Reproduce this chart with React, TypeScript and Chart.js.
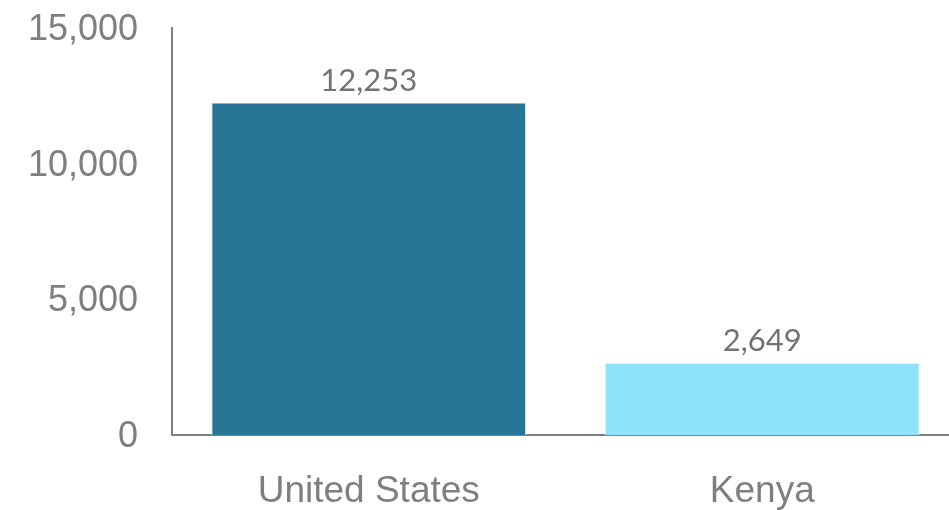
import React, { useEffect, useRef } from "react";
import { Chart, registerables } from "chart.js";

Chart.register(...registerables);

const categories = ["United States", "Kenya"];
const values = [12253, 2649];
const barColors = ["#277594", "#8FE3FC"];
const yTicks = [0, 5000, 10000, 15000];

const valueLabelPlugin = {
  id: "valueLabels",
  afterDatasetsDraw(chart: any) {
    const ctx = chart.ctx;
    const meta = chart.getDatasetMeta(0);
    ctx.save();
    ctx.font = "31px Lato";
    ctx.fillStyle = "#737373";
    ctx.textAlign = "center";
    ctx.textBaseline = "alphabetic";
    meta.data.forEach((bar: any, i: number) => {
      const v = chart.data.datasets[0].data[i] as number;
      ctx.fillText(v.toLocaleString("en-US"), bar.x, bar.y - 12);
    });
    ctx.restore();
  },
};

export default function App() {
  const ref = useRef<HTMLCanvasElement>(null);
  useEffect(() => {
    document.body.style.margin = "0";
    const chart = new Chart(ref.current!, {
      type: "bar",
      data: {
        labels: categories,
        datasets: [
          {
            data: values,
            backgroundColor: barColors,
            borderColor: "rgba(255,236,215,0.9)",
            borderWidth: 1,
            categoryPercentage: 1,
            barPercentage: 0.8,
          },
        ],
      },
      options: {
        responsive: false,
        animation: false,
        devicePixelRatio: 1,
        layout: { padding: { top: 28, right: 0, left: 0, bottom: 0 } },
        plugins: { legend: { display: false }, tooltip: { enabled: false } },
        scales: {
          x: {
            grid: { display: false, drawTicks: false, tickLength: 0 },
            border: { display: true, color: "#808080", width: 2 },
            ticks: {
              color: "#7f7f7f",
              font: { family: "'Liberation Sans', Arial", size: 37 },
              padding: 35,
            },
            afterFit: (s: any) => {
              s.height = 75;
              s.paddingLeft = 0;
              s.paddingRight = 0;
            },
          },
          y: {
            min: 0,
            max: 15000,
            afterBuildTicks: (s: any) => {
              s.ticks = yTicks.map((v) => ({ value: v }));
            },
            grid: { display: false, drawTicks: false, tickLength: 0 },
            border: { display: true, color: "#808080", width: 2 },
            ticks: {
              color: "#7f7f7f",
              font: { family: "'Liberation Sans', Arial", size: 36 },
              padding: 34,
              labelOffset: 2,
              callback: (v: any) => Number(v).toLocaleString("en-US"),
            },
            afterFit: (s: any) => {
              s.width = 172;
              s.paddingTop = 0;
              s.paddingBottom = 0;
            },
          },
        },
      },
      plugins: [valueLabelPlugin],
    });
    return () => chart.destroy();
  }, []);
  return (
    <div style={{ width: 949, height: 510, overflow: "hidden", position: "relative" }}>
      <canvas ref={ref} width={959} height={510} style={{ display: "block" }} />
    </div>
  );
}
